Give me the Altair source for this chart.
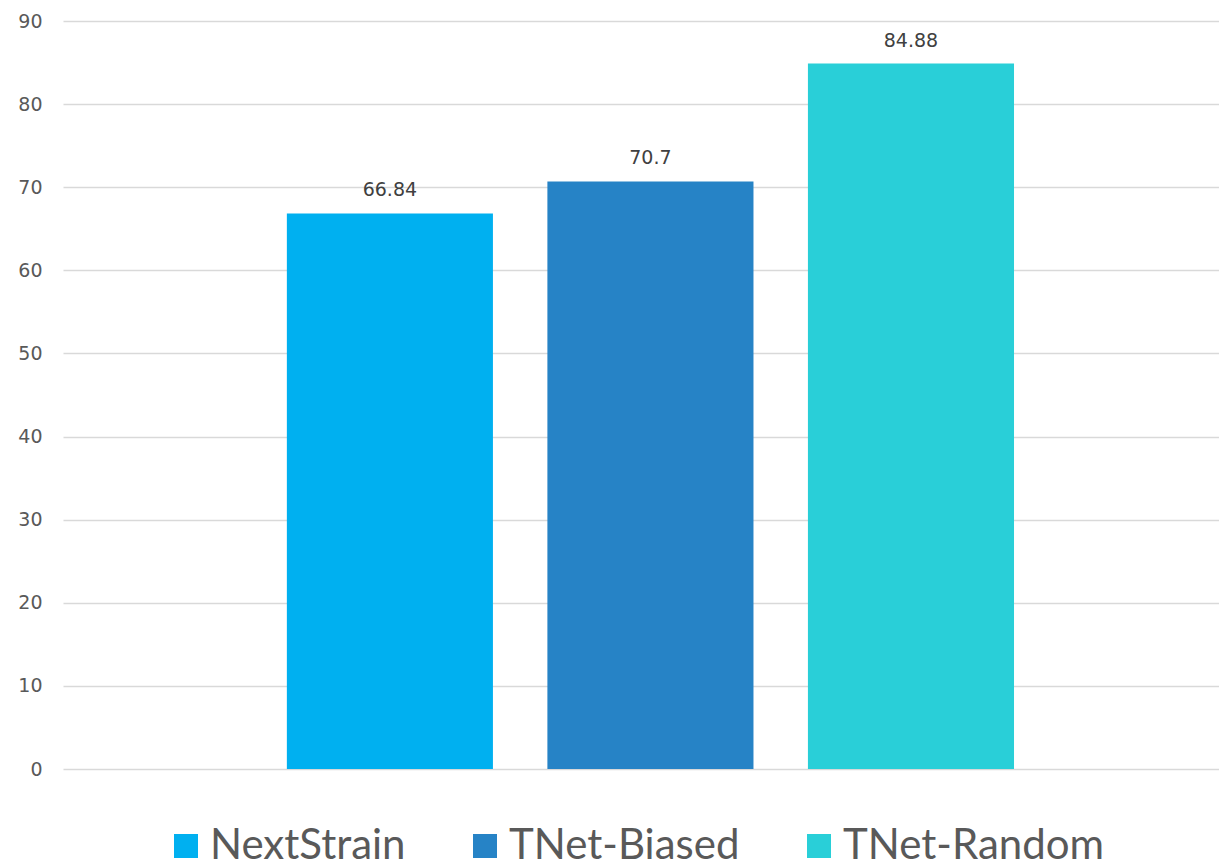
import altair as alt
import pandas as pd

series = ["NextStrain", "TNet-Biased", "TNet-Random"]
values = [66.84, 70.7, 84.88]
labels = ["66.84", "70.7", "84.88"]
colors = ["#00B0F0", "#2683C6", "#29CFD8"]
y_ticks = [0, 10, 20, 30, 40, 50, 60, 70, 80, 90]

df = pd.DataFrame({"series": series, "value": values, "label": labels})

NUM_FONT = "DejaVu Sans"
LEG_FONT = "Lato"

x = alt.X(
    "series:N",
    sort=series,
    axis=None,
    scale=alt.Scale(paddingInner=0.209, paddingOuter=0.823, align=0.522),
)

bars = alt.Chart(df).mark_bar().encode(
    x=x,
    y=alt.Y(
        "value:Q",
        scale=alt.Scale(domain=[0, 90], nice=False),
        axis=alt.Axis(
            values=y_ticks,
            title=None,
            domain=False,
            ticks=False,
            labelPadding=21,
            labelFontSize=19,
            labelFont=NUM_FONT,
            labelColor="#595959",
            gridColor="#d9d9d9",
            gridWidth=1.3,
        ),
    ),
    color=alt.Color(
        "series:N",
        sort=series,
        scale=alt.Scale(domain=series, range=colors),
        legend=alt.Legend(
            title=None,
            orient="none",
            legendX=102,
            legendY=804,
            direction="horizontal",
            padding=0,
            symbolType="square",
            symbolSize=576,
            symbolStrokeWidth=0,
            labelFontSize=42,
            labelFont=LEG_FONT,
            labelColor="#595959",
            labelLimit=400,
            columnPadding=58,
            labelOffset=3,
        ),
    ),
)

text = alt.Chart(df).mark_text(
    dy=-17, baseline="alphabetic", fontSize=19, font=NUM_FONT, color="#404040"
).encode(
    x=x,
    y=alt.Y("value:Q"),
    text="label:N",
)

chart = (
    alt.layer(bars, text)
    .properties(
        width=1156,
        height=748,
        autosize=alt.AutoSizeParams(type="none"),
        padding={"left": 63, "top": 21, "right": 0, "bottom": 98},
    )
    .configure_view(stroke=None)
)

chart.save("out.html", embed_options={"renderer": "svg", "actions": False})
